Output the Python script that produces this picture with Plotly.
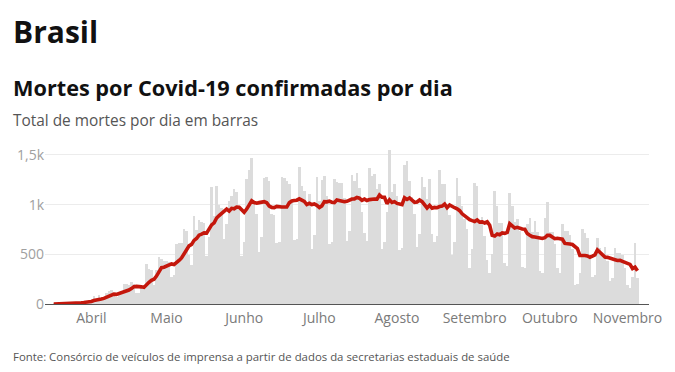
import plotly.graph_objects as go
import pandas as pd

# Daily confirmed deaths (bars), from 2020-03-17
start_date = "2020-03-17"
deaths_mar = [1, 3, 3, 4, 7, 7, 9, 12, 11, 20, 15, 19, 25, 23, 42]
deaths_apr = [39, 84, 35, 86, 41, 67, 114, 133, 141, 115, 68, 99, 105, 204, 204,
              188, 217, 206, 115, 113, 166, 165, 407, 357, 346, 189, 338, 474, 449, 435]
deaths_may = [428, 421, 275, 296, 600, 615, 610, 751, 730, 496, 396, 881, 749, 844, 824,
              816, 485, 674, 1179, 888, 1188, 1001, 965, 653, 807, 1039, 1086, 1156, 1124, 956, 480]
deaths_jun = [623, 1262, 1349, 1473, 1005, 904, 525, 679, 1272, 1274, 1239, 909, 892, 612, 627,
              1282, 1269, 1238, 1206, 1022, 641, 654, 1374, 1185, 1141, 990, 1109, 552, 692, 1280]
deaths_jul = [1038, 1252, 1290, 1091, 602, 620, 1254, 1223, 1220, 1214, 1071, 631, 733, 1300, 1233,
              1322, 1163, 921, 716, 632, 1367, 1284, 1311, 1156, 1211, 555, 627, 921, 1554, 1129, 1212]
deaths_aug = [1088, 541, 561, 1394, 1437, 1237, 1079, 905, 572, 703, 1274, 1175, 1060, 1262, 709,
              620, 684, 1352, 1212, 1204, 1007, 892, 494, 620, 1271, 1085, 984, 855, 758, 366, 553]
deaths_sep = [1215, 1184, 834, 874, 682, 447, 310, 504, 1136, 983, 814, 815, 415, 381, 1113,
              987, 829, 858, 739, 377, 363, 809, 869, 729, 831, 725, 335, 317, 863, 1031]
deaths_oct = [729, 728, 599, 363, 310, 804, 734, 730, 693, 556, 190, 201, 309, 754, 713,
              666, 461, 271, 287, 660, 566, 497, 571, 432, 230, 263, 561, 513, 510, 490, 364]
deaths_nov = [190, 162, 272, 610, 260]

# 7-day moving average (red line), read per day
avg_mar = [0.1, 0.6, 1.0, 1.6, 2.6, 3.6, 4.9, 6.4, 7.6, 10.0, 11.6, 13.3, 15.9, 17.9, 22.1]
avg_apr = [26.1, 35.3, 38.1, 47.7, 50.0, 56.3, 66.6, 80.0, 88.1, 99.6, 97.0, 105.3, 110.7, 123.6, 133.7,
           140.4, 155.0, 174.7, 177.0, 178.1, 172.7, 167.1, 198.4, 218.4, 238.4, 249.0, 281.1, 325.1, 365.7, 369.7]
avg_may = [379.9, 390.6, 402.9, 396.9, 414.9, 438.6, 463.6, 509.7, 553.9, 585.4, 599.7, 639.9, 659.0, 692.4, 702.9,
           715.1, 713.6, 753.3, 795.9, 815.7, 864.9, 890.1, 911.4, 935.4, 954.4, 934.4, 962.7, 958.1, 975.7, 974.4, 949.7]
avg_jun = [923.4, 955.3, 992.9, 1038.1, 1021.1, 1013.7, 1020.1, 1028.1, 1029.6, 1018.9, 985.4, 971.7, 970.0, 982.4, 975.0,
           976.4, 975.7, 975.6, 1018.0, 1036.6, 1040.7, 1044.6, 1057.7, 1045.7, 1031.9, 1001.0, 1013.4, 1000.7, 1006.1, 992.7]
avg_jul = [971.7, 987.6, 1030.4, 1027.9, 1035.0, 1024.7, 1021.0, 1047.4, 1042.9, 1032.0, 1029.1, 1033.3, 1049.4, 1056.0, 1057.4,
           1072.0, 1064.7, 1043.3, 1055.4, 1041.0, 1050.6, 1057.9, 1056.3, 1055.3, 1096.7, 1073.7, 1073.0, 1009.3, 1047.9, 1021.9, 1029.9]
avg_aug = [1012.3, 1010.3, 1000.9, 1068.4, 1051.7, 1067.1, 1048.1, 1022.0, 1026.4, 1046.7, 1029.6, 992.1, 966.9, 993.0, 965.0,
           971.9, 969.1, 980.3, 985.6, 1006.1, 969.7, 995.9, 977.9, 968.7, 957.1, 939.0, 907.6, 885.9, 866.7, 848.4, 838.9]
avg_sep = [830.9, 845.0, 823.6, 826.3, 815.4, 827.0, 792.3, 690.7, 683.9, 705.1, 696.6, 715.6, 711.0, 721.1, 808.1,
           786.9, 764.9, 771.1, 760.3, 754.9, 752.3, 708.9, 692.0, 677.7, 673.9, 671.9, 665.9, 659.3, 667.0, 690.1]
avg_oct = [690.1, 675.4, 657.4, 661.4, 660.4, 652.0, 609.6, 609.7, 604.7, 598.6, 573.9, 558.3, 487.6, 490.4, 488.0,
           484.1, 470.6, 482.1, 494.4, 544.6, 517.7, 486.9, 473.3, 469.1, 463.3, 459.9, 445.7, 438.1, 440.0, 428.4, 418.7]
avg_nov = [413.0, 398.6, 357.3, 371.1, 335.4]

month_ticks = ["2020-04-01", "2020-05-01", "2020-06-01", "2020-07-01",
               "2020-08-01", "2020-09-01", "2020-10-01", "2020-11-01"]
month_labels = ["Abril", "Maio", "Junho", "Julho", "Agosto", "Setembro", "Outubro", "Novembro"]
y_ticks = [0, 500, 1000, 1500]
y_labels = ["0", "500", "1k", "1,5k"]

deaths = (deaths_mar + deaths_apr + deaths_may + deaths_jun + deaths_jul +
          deaths_aug + deaths_sep + deaths_oct + deaths_nov)
avg = (avg_mar + avg_apr + avg_may + avg_jun + avg_jul +
       avg_aug + avg_sep + avg_oct + avg_nov)
dates = pd.date_range(start_date, periods=len(deaths), freq="D")

FONT = "Open Sans"
OFF = 8  # page body margin

fig = go.Figure()
fig.add_trace(go.Bar(x=dates, y=deaths, marker=dict(color="#dcdcdc", line=dict(width=0)),
                     hoverinfo="skip"))
fig.add_trace(go.Scatter(x=dates, y=avg, mode="lines",
                         line=dict(color="#c4170c", width=3.6, shape="linear"),
                         hoverinfo="skip"))

PL, PR, PT, PB = 45, 649, 144.7, 304.3  # plot area in page pixels

fig.update_layout(
    width=675, height=372,
    margin=dict(l=PL - OFF, r=675 - (PR - OFF), t=PT - OFF, b=372 - (PB - OFF), autoexpand=False),
    paper_bgcolor="white", plot_bgcolor="white",
    showlegend=False, bargap=0,
    font=dict(family=FONT),
    xaxis=dict(type="date", range=["2020-03-13 12:00", "2020-11-09 14:00"],
               tickvals=month_ticks, ticktext=month_labels,
               showgrid=False, zeroline=False, showline=False, ticks="",
               ticklabelstandoff=4,
               tickfont=dict(family=FONT, size=14, color="#7a7a7a")),
    yaxis=dict(range=[0, 1600], tickvals=y_ticks, ticktext=y_labels,
               showgrid=True, gridcolor="#ececec", gridwidth=1,
               zeroline=True, zerolinecolor="#555555", zerolinewidth=1,
               showline=False, ticks="", ticklen=0,
               tickfont=dict(family=FONT, size=14, color="#a0a0a0")),
)

def px_to_paper_y(py):
    return (PB - py) / (PB - PT)

def px_to_paper_x(px):
    return (px - PL) / (PR - PL)

anns = [
    dict(text="<b>Brasil</b>", size=30, color="#111111", y=31),
    dict(text="<b>Mortes por Covid-19 confirmadas por dia</b>", size=21.7, color="#111111", y=87),
    dict(text="Total de mortes por dia em barras", size=15.4, color="#555555", y=120),
    dict(text="Fonte: Consórcio de veículos de imprensa a partir de dados da secretarias estaduais de saúde",
         size=11.4, color="#555555", y=357),
]
for a in anns:
    fig.add_annotation(text=a["text"], xref="paper", yref="paper",
                       x=px_to_paper_x(11), y=px_to_paper_y(a["y"]),
                       xanchor="left", yanchor="middle", showarrow=False,
                       font=dict(family=FONT, size=a["size"], color=a["color"]))

fig.write_html("out.html")
